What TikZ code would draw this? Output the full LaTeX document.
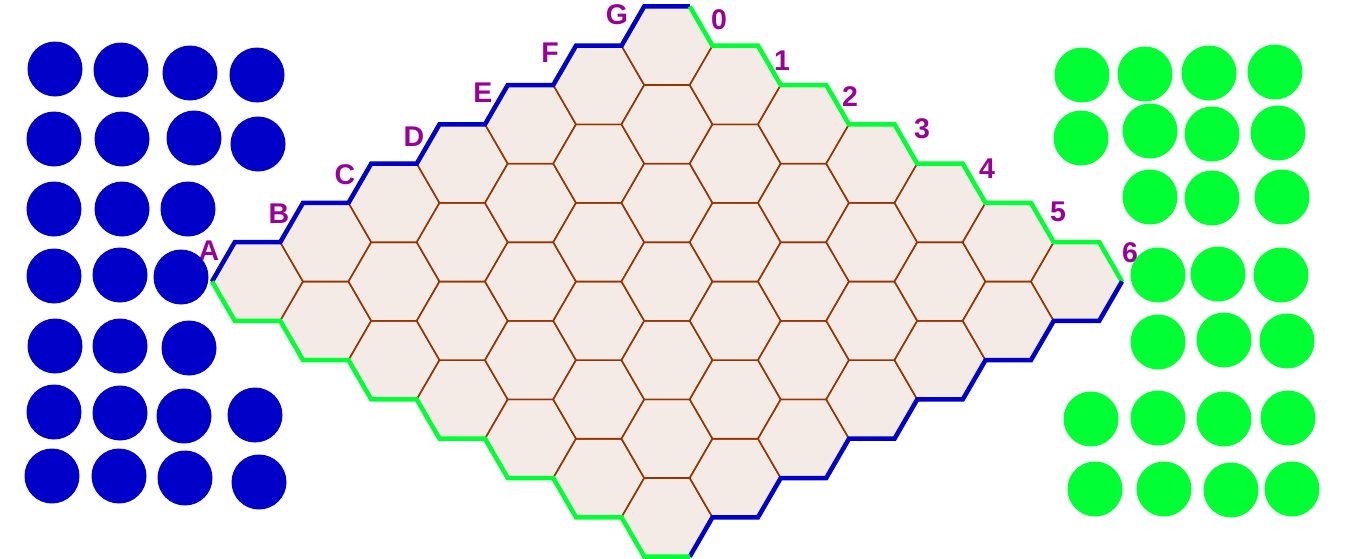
\documentclass[tikz,border=0pt]{standalone}
\usepackage{fontspec}
\setmainfont{Liberation Sans}
\definecolor{bluec}{HTML}{0000C8}
\definecolor{greenc}{HTML}{00FF33}
\definecolor{brownc}{HTML}{993300}
\definecolor{fillc}{HTML}{F4EBE6}
\definecolor{labelc}{HTML}{990099}
\tikzset{
  hexcell/.style={fill=fillc, draw=brownc, line width=1.6pt, line join=miter},
  blueedge/.style={draw=bluec, line width=4.5pt, line join=miter},
  greenedge/.style={draw=greenc, line width=4.5pt, line join=miter},
  bluedisc/.style={fill=bluec},
  greendisc/.style={fill=greenc},
  lbl/.style={text=labelc, font=\fontsize{28.5}{28.5}\selectfont\bfseries, inner sep=0pt, text height=20.4pt, text depth=0pt, anchor=center}
}
\begin{document}
\begin{tikzpicture}[x=1pt,y=-1pt]
\useasboundingbox (0,0) rectangle (1366,558);
% hex cells
\foreach \i in {0,...,6}{
  \foreach \j in {0,...,6}{
    \pgfmathsetmacro\cx{257.5+68.25*(\i+\j)}
    \pgfmathsetmacro\cy{281.5+39.3*(\j-\i)}
    \coordinate (c\i\j) at (\cx,\cy);
    \coordinate (c\i\j E) at (\cx+45.5,\cy);
    \coordinate (c\i\j NE) at (\cx+22.75,\cy-39.3);
    \coordinate (c\i\j NW) at (\cx-22.75,\cy-39.3);
    \coordinate (c\i\j W) at (\cx-45.5,\cy);
    \coordinate (c\i\j SW) at (\cx-22.75,\cy+39.3);
    \coordinate (c\i\j SE) at (\cx+22.75,\cy+39.3);
    \filldraw[hexcell] (c\i\j E) -- (c\i\j NE) -- (c\i\j NW) -- (c\i\j W) -- (c\i\j SW) -- (c\i\j SE) -- cycle;
  }
}
% borders
\draw[blueedge] (c00W) \foreach \i in {0,...,6}{ -- (c\i0NW) -- (c\i0NE) };
\draw[greenedge] (c60NE) -- (c60E) \foreach \j in {1,...,6}{ -- (c6\j NE) -- (c6\j E) };
\draw[blueedge] (c66E) \foreach \i in {6,...,1}{ -- (c\i6SE) -- (c\i6SW) } -- (c06SE);
\draw[greenedge] (c00W) \foreach \j in {0,...,6}{ -- (c0\j SW) -- (c0\j SE) };
% labels
\node[lbl] (lA) at (209,250) {A};
\node[lbl] (lB) at (279,213) {B};
\node[lbl] (lC) at (345,174) {C};
\node[lbl] (lD) at (414,136) {D};
\node[lbl] (lE) at (483,92) {E};
\node[lbl] (lF) at (550,52) {F};
\node[lbl] (lG) at (617,14) {G};
\node[lbl] (l0) at (719,19) {0};
\node[lbl] (l1) at (782,60) {1};
\node[lbl] (l2) at (850,96) {2};
\node[lbl] (l3) at (922,128) {3};
\node[lbl] (l4) at (987,168) {4};
\node[lbl] (l5) at (1058,211) {5};
\node[lbl] (l6) at (1130,252) {6};
% blue stones
\foreach \p in {(55,69),(121,70),(190,73),(257,75),
                (54,139),(122,139),(194,138),(258,144),
                (54,209),(122,209),(188,209),
                (54,276),(120,275),(181,277),
                (55,346),(120,346),(189,348),
                (54,412),(120,413),(184,416),(255,415),
                (52,476),(119,476),(185,478),(259,482)}
  \fill[bluedisc] \p circle[radius=27.5pt];
% green stones
\foreach \p in {(1082,75),(1145,74),(1209,73),(1275,72),
                (1081,138),(1150,131),(1212,134),(1278,133),
                (1150,197),(1212,198),(1282,197),
                (1158,275),(1218,274),(1281,275),
                (1158,342),(1224,340),(1287,341),
                (1091,419),(1158,418),(1224,419),(1288,418),
                (1095,489),(1164,489),(1231,490),(1292,489)}
  \fill[greendisc] \p circle[radius=27.5pt];
\end{tikzpicture}
\end{document}
